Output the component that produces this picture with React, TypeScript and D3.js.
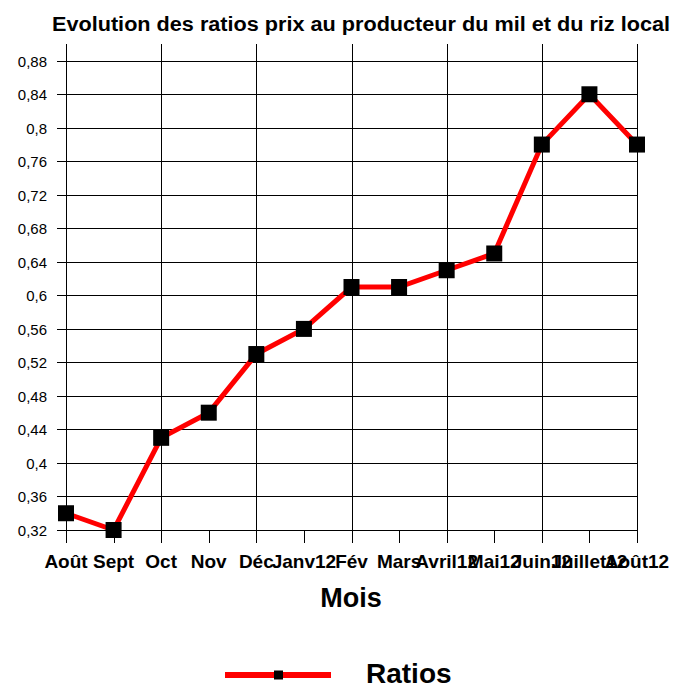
import React, { useEffect, useRef } from "react";
import * as d3 from "d3";

const MONTHS = ["Août", "Sept", "Oct", "Nov", "Déc", "Janv12", "Fév", "Mars", "Avril12", "Mai12", "Juin12", "Juillet12", "Août12"];
const RATIOS = [0.34, 0.32, 0.43, 0.46, 0.53, 0.56, 0.61, 0.61, 0.63, 0.65, 0.78, 0.84, 0.78];
const Y_TICKS = [0.32, 0.36, 0.4, 0.44, 0.48, 0.52, 0.56, 0.6, 0.64, 0.68, 0.72, 0.76, 0.8, 0.84, 0.88];

const FONT = "'Liberation Sans', Arial, sans-serif";

export default function App() {
  const svgRef = useRef<SVGSVGElement>(null);

  useEffect(() => {
    const width = 673;
    const height = 686;
    const margin = { top: 44, right: 36, bottom: 156, left: 66 };
    const innerW = width - margin.left - margin.right;
    const innerH = height - margin.top - margin.bottom;

    const svg = d3.select(svgRef.current);
    svg.selectAll("*").remove();

    const g = svg.append("g").attr("transform", `translate(${margin.left},${margin.top})`);

    const x = d3.scalePoint<string>().domain(MONTHS).range([0, innerW]);
    const y = d3.scaleLinear().domain([0.32, 0.9]).range([innerH, 0]);

    // Title
    svg.append("text")
      .attr("x", 52).attr("y", 31)
      .attr("textLength", 618)
      .attr("lengthAdjust", "spacingAndGlyphs")
      .style("font-family", FONT).style("font-size", "20px").style("font-weight", 700)
      .text("Evolution des ratios prix au producteur du mil et du riz local");

    // Horizontal grid
    g.selectAll(".grid-y")
      .data(Y_TICKS)
      .join("line")
      .attr("x1", -9).attr("x2", innerW)
      .attr("y1", d => Math.round(y(d)) + 0.5).attr("y2", d => Math.round(y(d)) + 0.5)
      .attr("stroke", "#000").attr("stroke-width", 1);

    // Vertical grid (every second month)
    g.selectAll(".grid-x")
      .data(MONTHS.filter((_, i) => i % 2 === 0))
      .join("line")
      .attr("x1", d => Math.round(x(d)!) + 0.5).attr("x2", d => Math.round(x(d)!) + 0.5)
      .attr("y1", 0).attr("y2", innerH + 13)
      .attr("stroke", "#000").attr("stroke-width", 1);

    // Bottom tick marks
    g.selectAll(".tick-x")
      .data(MONTHS)
      .join("line")
      .attr("x1", d => Math.round(x(d)!) + 0.5).attr("x2", d => Math.round(x(d)!) + 0.5)
      .attr("y1", innerH).attr("y2", innerH + 13)
      .attr("stroke", "#000").attr("stroke-width", 1);

    // Y tick labels
    g.selectAll(".ylab")
      .data(Y_TICKS)
      .join("text")
      .attr("x", -19).attr("y", d => y(d) + 6)
      .attr("text-anchor", "end")
      .style("font-family", FONT).style("font-size", "15px")
      .text(d => d3.format(".2~f")(d).replace(".", ","));

    // X labels
    g.selectAll(".xlab")
      .data(MONTHS)
      .join("text")
      .attr("x", d => x(d)!).attr("y", innerH + 38)
      .attr("text-anchor", "middle")
      .style("font-family", FONT).style("font-size", "19px").style("font-weight", 700)
      .text(d => d);

    // Axis title
    svg.append("text")
      .attr("x", 351).attr("y", 607)
      .attr("text-anchor", "middle")
      .style("font-family", FONT).style("font-size", "27px").style("font-weight", 700)
      .text("Mois");

    // Line
    const line = d3.line<number>()
      .x((_, i) => x(MONTHS[i])!)
      .y(d => y(d));

    g.append("path")
      .datum(RATIOS)
      .attr("d", line)
      .attr("fill", "none")
      .attr("stroke", "#ff0000")
      .attr("stroke-width", 5)
      .attr("stroke-linejoin", "miter");

    // Markers
    g.selectAll(".marker")
      .data(RATIOS)
      .join("rect")
      .attr("x", (_, i) => x(MONTHS[i])! - 8)
      .attr("y", d => y(d) - 8)
      .attr("width", 16).attr("height", 16)
      .attr("fill", "#000");

    // Legend
    const legend = svg.append("g").attr("transform", "translate(225,675)");
    legend.append("line")
      .attr("x1", 0).attr("x2", 106)
      .attr("y1", 0).attr("y2", 0)
      .attr("stroke", "#ff0000").attr("stroke-width", 6);
    legend.append("rect")
      .attr("x", 49).attr("y", -4.5)
      .attr("width", 9).attr("height", 9)
      .attr("fill", "#000");
    legend.append("text")
      .attr("x", 141).attr("y", 8)
      .style("font-family", FONT).style("font-size", "28px").style("font-weight", 700)
      .text("Ratios");
  }, []);

  return (
    <svg
      ref={svgRef}
      width={673}
      height={686}
      style={{ position: "absolute", left: 0, top: 0, background: "#fff" }}
    />
  );
}
